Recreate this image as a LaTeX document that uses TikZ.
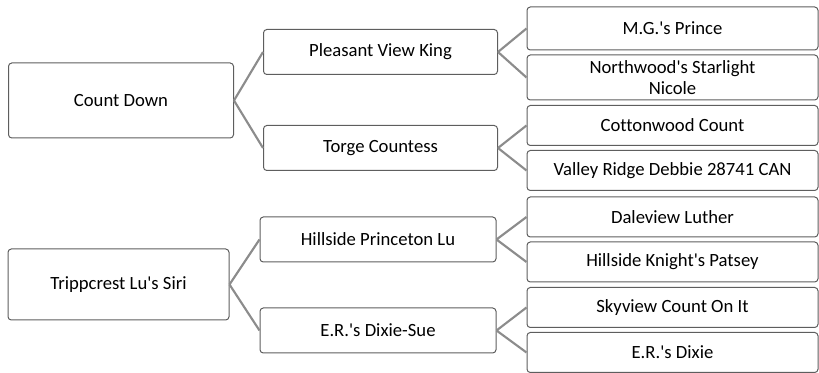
\documentclass[tikz,border=0pt]{standalone}
\usepackage{fontspec}
\setmainfont{Carlito}[Ligatures=NoCommon]
\usetikzlibrary{calc}

\definecolor{boxline}{HTML}{5E5E5E}
\definecolor{linkline}{HTML}{8C8C8C}
\newcommand{\apos}{\textquotesingle}

\tikzset{
  dog/.style={draw=boxline, line width=0.75pt, rounded corners=2.5pt, fill=white,
    align=center, inner sep=0pt, font=\fontsize{14}{15.8}\selectfont},
  sire/.style={dog, minimum width=225*0.75pt, minimum height=75*0.75pt},
  parent/.style={dog, minimum width=234*0.75pt, minimum height=45*0.75pt},
  grand/.style={dog, minimum width=291*0.75pt, minimum height=40*0.75pt},
  link/.style={draw=linkline, line width=1.6pt}
}

\begin{document}
\begin{tikzpicture}[x=0.75pt, y=-0.75pt]

\useasboundingbox (0,0) rectangle (819,373);

\node[sire] (CD) at (121,100.5) {Count Down};
\node[parent] (PVK) at (380.5,52) {Pleasant View King};
\node[parent] (TC) at (380.5,148) {Torge Countess};
\node[grand, minimum height=43*0.75pt] (MGP) at (672.5,28.5) {M.G.\apos s Prince};
\node[grand, minimum height=45*0.75pt] (NSN) at (672.5,77.5) {Northwood\apos s Starlight\\Nicole};
\node[grand] (CC) at (672.5,125.5) {Cottonwood Count};
\node[grand] (VRD) at (672.5,170.5) {Valley Ridge Debbie 28741 CAN};

\node[sire, minimum width=221*0.75pt, minimum height=71*0.75pt] (TLS) at (118.5,284.5) {Trippcrest Lu\apos s Siri};
\node[parent, minimum width=236*0.75pt] (HPL) at (378,239.5) {Hillside Princeton Lu};
\node[parent, minimum width=236*0.75pt] (EDS) at (378,330.5) {E.R.\apos s Dixie-Sue};
\node[grand] (DL) at (672.5,217) {Daleview Luther};
\node[grand] (HKP) at (672.5,262) {Hillside Knight\apos s Patsey};
\node[grand] (SCO) at (672.5,307.5) {Skyview Count On It};
\node[grand] (ERD) at (672.5,352.5) {E.R.\apos s Dixie};

\draw [link] (CD.east) -- (PVK.west) (CD.east) -- (TC.west);
\draw [link] (PVK.east) -- (MGP.west) (PVK.east) -- (NSN.west);
\draw [link] (TC.east) -- (CC.west) (TC.east) -- (VRD.west);

\draw [link] (TLS.east) -- (HPL.west) (TLS.east) -- (EDS.west);
\draw [link] (HPL.east) -- (DL.west) (HPL.east) -- (HKP.west);
\draw [link] (EDS.east) -- (SCO.west) (EDS.east) -- (ERD.west);

\end{tikzpicture}
\end{document}
